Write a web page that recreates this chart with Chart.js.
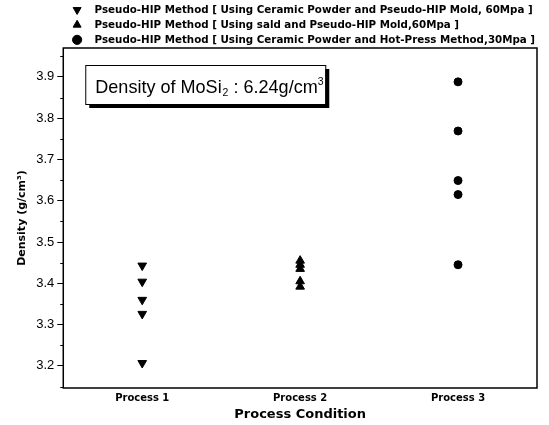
<!DOCTYPE html>
<html>
<head>
<meta charset="utf-8">
<script src="https://cdn.jsdelivr.net/npm/chart.js@4.4.0/dist/chart.umd.min.js"></script>
<style>
  html, body { margin: 0; padding: 0; background: #fff; }
  #wrap { width: 549px; height: 425px; position: relative; }
</style>
</head>
<body>
<div id="wrap"><canvas id="myChart"></canvas></div>
<script>
// data
const categories = ['Process 1', 'Process 2', 'Process 3'];
const seriesNames = [
  'Pseudo-HIP Method [ Using Ceramic Powder and Pseudo-HIP Mold, 60Mpa ]',
  'Pseudo-HIP Method [ Using sald and Pseudo-HIP Mold,60Mpa ]',
  'Pseudo-HIP Method [ Using Ceramic Powder and Hot-Press Method,30Mpa ]'
];
const process1Density = [3.443, 3.404, 3.360, 3.326, 3.207];
const process2Density = [3.455, 3.445, 3.435, 3.405, 3.392];
const process3Density = [3.888, 3.769, 3.649, 3.615, 3.445];
const yTicks = [3.2, 3.3, 3.4, 3.5, 3.6, 3.7, 3.8, 3.9];
const yMinorTicks = [3.15, 3.25, 3.35, 3.45, 3.55, 3.65, 3.75, 3.85, 3.95];

const toPoints = (cat, values) => values.map(v => ({ x: cat, y: v }));

// nudge legend to the right a bit (it sits over the plot area)
const legendShift = {
  id: 'legendShift',
  afterLayout: function(chart) {
    chart.legend.left += 4;
    chart.legend.right += 4;
  }
};

// frame around plot + minor ticks + density note
const framePlugin = {
  id: 'frame',
  afterDraw: function(chart) {
    const ctx = chart.ctx;
    const a = chart.chartArea;
    const y = chart.scales.y;
    ctx.save();
    ctx.strokeStyle = '#000';
    ctx.lineWidth = 1.5;
    ctx.strokeRect(a.left, a.top, a.right - a.left, a.bottom - a.top);

    ctx.lineWidth = 1;
    ctx.beginPath();
    yMinorTicks.forEach(function(v) {
      const py = Math.round(y.getPixelForValue(v)) + 0.5;
      if (py < a.top || py > a.bottom) return;
      ctx.moveTo(a.left - 3, py);
      ctx.lineTo(a.left, py);
    });
    ctx.stroke();

    // note box with shadow
    const bx = a.left + 22, by = a.top + 17, bw = 240, bh = 39;
    ctx.fillStyle = '#000';
    ctx.fillRect(bx + 4, by + 4, bw, bh);
    ctx.fillStyle = '#fff';
    ctx.fillRect(bx, by, bw, bh);
    ctx.lineWidth = 1;
    ctx.strokeRect(bx + 0.5, by + 0.5, bw, bh);

    ctx.fillStyle = '#000';
    ctx.textBaseline = 'alphabetic';
    const big = '19px "Liberation Sans", Arial, sans-serif';
    const small = '11px "Liberation Sans", Arial, sans-serif';
    ctx.translate(bx + 10, by + 28);
    ctx.scale(0.95, 1);
    let tx = 0;
    ctx.font = big;
    ctx.fillText('Density of MoSi', tx, 0);
    tx += ctx.measureText('Density of MoSi').width;
    ctx.font = small;
    ctx.fillText('2', tx + 1, 3);
    tx += ctx.measureText('2').width + 1;
    ctx.font = big;
    ctx.fillText(' : 6.24g/cm', tx, 0);
    tx += ctx.measureText(' : 6.24g/cm').width;
    ctx.font = small;
    ctx.fillText('3', tx, -8);
    ctx.restore();
  }
};

const ctx = document.querySelector('#myChart').getContext('2d');
const myChart = new Chart(ctx, {
  type: 'scatter',
  data: {
    labels: categories,
    datasets: [{
      label: seriesNames[0],
      data: toPoints(categories[0], process1Density),
      pointStyle: 'triangle',
      rotation: 180,
      pointRadius: 5,
      backgroundColor: '#000',
      borderColor: '#000'
    },
    {
      label: seriesNames[1],
      data: toPoints(categories[1], process2Density),
      pointStyle: 'triangle',
      pointRadius: 5,
      backgroundColor: '#000',
      borderColor: '#000'
    },
    {
      label: seriesNames[2],
      data: toPoints(categories[2], process3Density),
      pointStyle: 'circle',
      pointRadius: 4,
      backgroundColor: '#000',
      borderColor: '#000'
    }]
  },
  options: {
    responsive: true,
    maintainAspectRatio: false,
    animation: false,
    layout: { padding: { top: 0, right: 12, bottom: 4, left: 0 } },
    plugins: {
      tooltip: { enabled: false },
      legend: {
        position: 'top',
        align: 'start',
        fullSize: false,
        maxHeight: 48,
        labels: {
          usePointStyle: true,
          boxWidth: 10.3,
          boxHeight: 6.5,
          padding: 4.7,
          color: '#000',
          font: { family: '"DejaVu Sans", sans-serif', size: 10.3, weight: 'bold' },
          generateLabels: function(chart) {
            const items = Chart.defaults.plugins.legend.labels.generateLabels(chart);
            return items.map(item => Object.assign(item, { text: '  ' + item.text }));
          }
        }
      }
    },
    scales: {
      x: {
        type: 'category',
        labels: categories,
        offset: true,
        grid: { display: false, drawTicks: false },
        border: { display: false },
        ticks: {
          color: '#000',
          padding: 5,
          font: { family: '"DejaVu Sans", sans-serif', size: 10, weight: 'bold', lineHeight: 1 }
        },
        title: {
          display: true,
          text: 'Process Condition',
          color: '#000',
          padding: { top: 0, bottom: 0 },
          font: { family: '"DejaVu Sans", sans-serif', size: 13, weight: 'bold', lineHeight: 1 }
        }
      },
      y: {
        min: 3.1465,
        max: 3.97,
        afterBuildTicks: function(axis) {
          axis.ticks = yTicks.map(v => ({ value: v }));
        },
        grid: {
          drawOnChartArea: false,
          drawTicks: true,
          tickLength: 6,
          tickColor: '#000',
          tickWidth: 1
        },
        border: { display: false },
        ticks: {
          color: '#000',
          padding: 3,
          font: { family: '"Liberation Sans", Arial, sans-serif', size: 13, lineHeight: 0.2 },
          callback: v => v.toFixed(1)
        },
        title: {
          display: true,
          text: 'Density (g/cm\u00B3)',
          color: '#000',
          padding: { top: 16, bottom: 4 },
          font: { family: '"DejaVu Sans", sans-serif', size: 11, weight: 'bold' }
        }
      }
    }
  },
  plugins: [legendShift, framePlugin]
});
</script>
</body>
</html>
